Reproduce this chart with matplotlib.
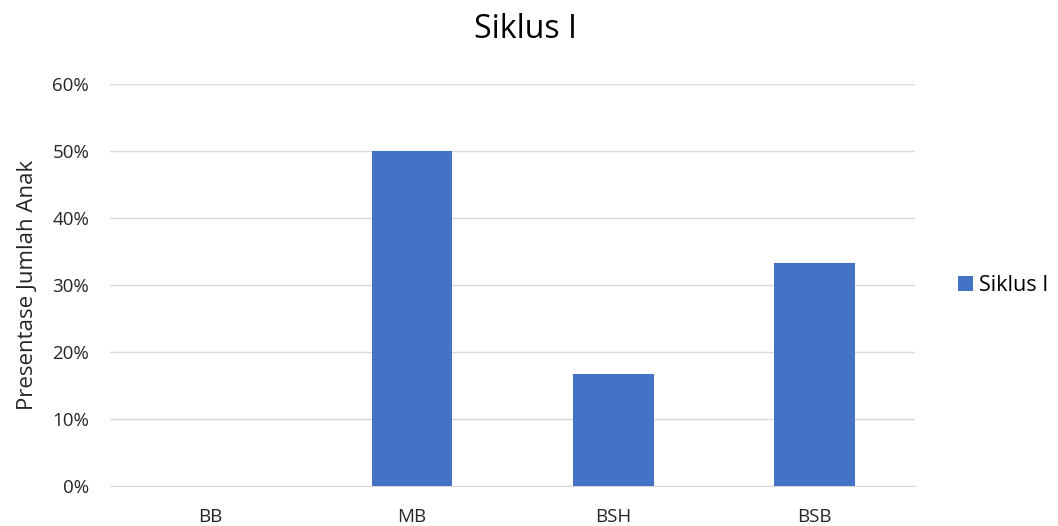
import matplotlib.pyplot as plt
from matplotlib.ticker import PercentFormatter

categories = ['BB', 'MB', 'BSH', 'BSB']
values = [0.0, 0.50, 0.1667, 0.3333]
series_name = 'Siklus I'

plt.rcParams['font.family'] = ['Open Sans', 'DejaVu Sans']

fig = plt.figure(figsize=(10.58, 5.26), dpi=100)
ax = fig.add_axes([0.104, 0.076, 0.761, 0.764])

x = range(len(categories))
ax.bar(x, values, width=0.4, color='#4472C4', label=series_name, zorder=3)

ax.set_xlim(-0.5, len(categories) - 0.5)
ax.set_ylim(0, 0.6)
ax.set_yticks([0, 0.1, 0.2, 0.3, 0.4, 0.5, 0.6])
ax.yaxis.set_major_formatter(PercentFormatter(1.0, decimals=0))
ax.set_xticks(list(x))
ax.set_xticklabels(categories)
ax.grid(axis='y', color='#D9D9D9', linewidth=1, zorder=0)
for s in ['top', 'right', 'left']:
    ax.spines[s].set_visible(False)
ax.spines['bottom'].set_color('#D9D9D9')
ax.tick_params(axis='both', length=0, labelsize=13.5, colors='#262626')
ax.tick_params(axis='y', pad=15)
ax.tick_params(axis='x', pad=16)
ax.set_ylabel('Presentase Jumlah Anak', fontsize=16, color='#262626', labelpad=10)

fig.suptitle(series_name, x=0.497, y=0.975, fontsize=23, color='#000000')
ax.legend(loc='center left', bbox_to_anchor=(1.053, 0.5), frameon=False,
          borderaxespad=0, borderpad=0,
          fontsize=15.5, handlelength=0.7, handleheight=0.7, handletextpad=0.3)

fig.savefig('out.png', dpi=100)
